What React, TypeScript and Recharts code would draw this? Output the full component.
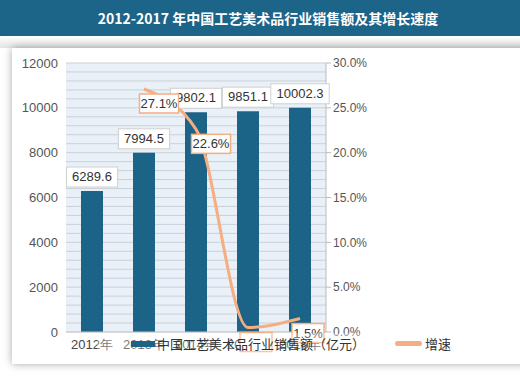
import React from "react";
import {
  ComposedChart, Bar, Line, XAxis, YAxis, CartesianGrid, LabelList,
} from "recharts";

const years = ["2012年", "2013年", "2014年", "2015年", "2016年"];
const sales = [6289.6, 7994.5, 9802.1, 9851.1, 10002.3];
const growth: (number | null)[] = [null, 27.1, 22.6, 0.5, 1.5];
// grid every 400, labels every 2000
const leftTicks = Array.from({ length: 31 }, (_, i) => i * 400);
const rightTicks = [0, 5, 10, 15, 20, 25, 30];

const BLUE = "#1b6387";
const ORANGE = "#f5ad82";
const FONT = "'Liberation Sans', Arial, sans-serif";
const CJK = "'Noto Sans CJK SC', sans-serif";

const data = years.map((y, i) => ({ year: y, sales: sales[i], growth: growth[i] }));

function BarLabel(props: any) {
  const { x, y, width, value } = props;
  const text = String(value);
  const w = text.length * 7.2 + 8;
  const cx = x + width / 2;
  return (
    <g>
      <rect x={cx - w / 2} y={y - 24} width={w} height={20} fill="#fff" stroke="#d0d0d0" />
      <text x={cx} y={y - 10} textAnchor="middle" fontSize={13} fill="#333" fontFamily={FONT}>
        {text}
      </text>
    </g>
  );
}

function LineLabel(props: any) {
  const { x, y, value } = props;
  if (value == null) return null;
  const text = value.toFixed(1) + "%";
  const w = text.length * 7 + 4;
  const cx = x + (value < 5 ? 8 : 15);
  return (
    <g>
      <rect x={cx - w / 2} y={y + 5} width={w} height={19} fill="#fff" stroke={ORANGE} strokeWidth={1.5} />
      {value >= 1 && (
        <text x={cx} y={y + 19} textAnchor="middle" fontSize={13} fill="#333" fontFamily={FONT}>
          {text}
        </text>
      )}
    </g>
  );
}

export default function App() {
  return (
    <div style={{ position: "fixed", left: 0, top: 0, width: 520, height: 378, background: "#fff", overflow: "hidden" }}>
      <div
        style={{
          position: "absolute", left: 0, top: 0, width: 520, height: 36, background: "#1c6488",
          color: "#fff", fontFamily: CJK, fontWeight: 700, fontSize: 14, lineHeight: "36px",
          textAlign: "center", paddingLeft: 16, boxSizing: "border-box",
        }}
      >
        2012-2017 年中国工艺美术品行业销售额及其增长速度
      </div>
      <div style={{ position: "absolute", left: 0, top: 36, width: 520, height: 12, background: "linear-gradient(#fff, #e4e4e4)" }} />
      <div
        style={{
          position: "absolute", left: 12, top: 48, width: 530, height: 316, background: "#fff",
          boxShadow: "0 0 8px rgba(0,0,0,0.35)",
        }}
      />
      <div style={{ position: "absolute", left: 12, top: 48 }}>
        <ComposedChart width={500} height={320} data={data} margin={{ top: 15, right: 136, left: 0, bottom: 16 }}>
          <CartesianGrid yAxisId="left" vertical={false} stroke="#c9d1d9" fill="#e9f0f7" />
          <XAxis
            dataKey="year" height={20} axisLine={{ stroke: "#c8c8c8" }} tickLine={false}
            tick={{ fontSize: 13, fill: "#444", fontFamily: FONT }} interval={0}
          />
          <YAxis
            yAxisId="left" width={54} domain={[0, 12000]} ticks={leftTicks} interval={0}
            axisLine={false} tickLine={false}
            tickFormatter={(v: number) => (v % 2000 === 0 ? String(v) : "")}
            tick={{ fontSize: 13, fill: "#555", fontFamily: FONT }}
          />
          <YAxis
            yAxisId="right" orientation="right" width={50} domain={[0, 30]} ticks={rightTicks}
            axisLine={{ stroke: "#bbb" }} tickLine={{ stroke: "#bbb" }} tickSize={5}
            tickFormatter={(v: number) => v.toFixed(1) + "%"}
            tick={{ fontSize: 12, fill: "#555", fontFamily: FONT }}
          />
          <Bar yAxisId="left" dataKey="sales" fill={BLUE} barSize={22} isAnimationActive={false}>
            <LabelList dataKey="sales" content={BarLabel} />
          </Bar>
          <Line
            yAxisId="right" dataKey="growth" type="monotone" stroke={ORANGE} strokeWidth={3}
            dot={false} connectNulls={false} isAnimationActive={false}
          >
            <LabelList dataKey="growth" content={LineLabel} />
          </Line>
        </ComposedChart>
      </div>
      <div
        style={{
          position: "absolute", left: 97, top: 333, width: 380, height: 22, background: "rgba(255,255,255,0.3)",
          fontFamily: CJK, fontSize: 13, color: "#333",
        }}
      >
        <div style={{ position: "absolute", left: 34, top: 8, width: 24, height: 6, background: BLUE }} />
        <div style={{ position: "absolute", left: 60, top: 1, lineHeight: "20px", whiteSpace: "nowrap" }}>
          中国工艺美术品行业销售额（亿元）
        </div>
        <div style={{ position: "absolute", left: 298, top: 8, width: 27, height: 5, borderRadius: 3, background: ORANGE }} />
        <div style={{ position: "absolute", left: 328, top: 1, lineHeight: "20px" }}>增速</div>
      </div>
    </div>
  );
}
